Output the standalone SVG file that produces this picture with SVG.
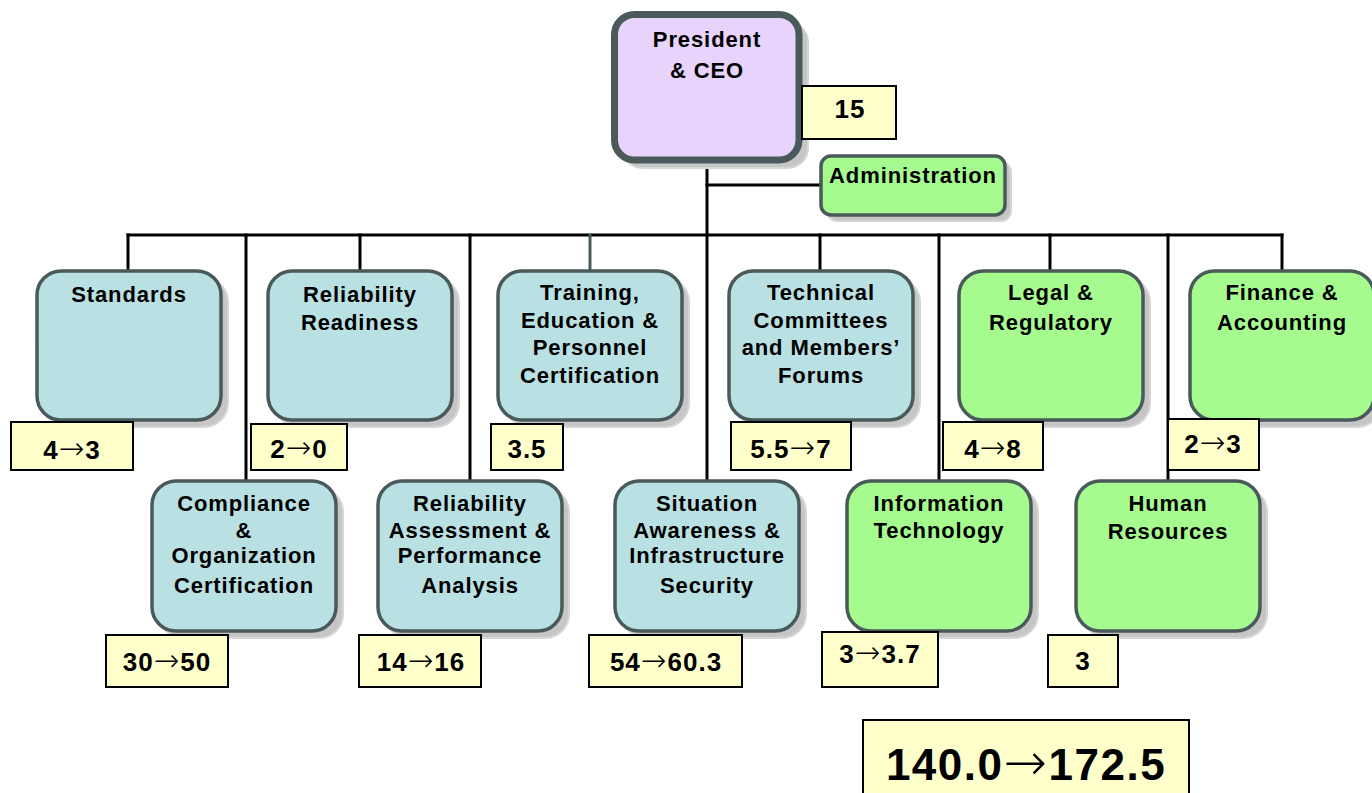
<svg xmlns="http://www.w3.org/2000/svg" width="1372" height="793" viewBox="0 0 1372 793">
  <style>
    .wire { stroke:#000; stroke-width:3; fill:none; stroke-linecap:square }
    .wire.soft { stroke:#4a5a5a }
    .shadow { fill:#c6c6c6; stroke:#d6d6d6; stroke-width:2 }
    .box { stroke:#4a5a5a; stroke-width:3.5 }
    .blue { fill:#b9e0e3 }
    .green { fill:#a6fb8f }
    .lav { fill:#e8d3fc }
    .tag { fill:#ffffcc; stroke:#000; stroke-width:2 }
    text { font-family:"Liberation Sans", Arial, sans-serif; font-weight:bold; fill:#000; text-anchor:middle }
    .lbl { font-size:22px; letter-spacing:0.9px }
    .num { font-size:26px; letter-spacing:1px }
    .big { font-size:44px; letter-spacing:1.5px }
    .arr { font-family:"DejaVu Sans", sans-serif; font-weight:200; font-size:118% }
  </style>

  <!-- reporting lines -->
  <g id="connectors">
    <path class="wire" d="M707 163 V480"/>
    <path class="wire" d="M707 185 H820"/>
    <path class="wire" d="M128 235 H1282"/>
    <path class="wire" d="M128 235 V270"/>
    <path class="wire" d="M246 235 V480"/>
    <path class="wire" d="M360 235 V270"/>
    <path class="wire" d="M470 235 V480"/>
    <path class="wire soft" d="M590 235 V270"/>
    <path class="wire" d="M820 235 V270"/>
    <path class="wire" d="M939 235 V480"/>
    <path class="wire" d="M1050 235 V270"/>
    <path class="wire" d="M1168 235 V480"/>
    <path class="wire" d="M1282 235 V270"/>
  </g>

  <g id="president">
    <rect class="shadow" x="622" y="22" width="186" height="146" rx="20"/>
    <rect class="box lav" x="614.5" y="14.5" width="184.5" height="145.5" rx="20" style="stroke-width:7"/>
    <text class="lbl" x="707" y="47">President</text>
    <text class="lbl" x="707" y="78">&amp; CEO</text>
    <rect class="tag" x="802" y="86" width="94" height="53"/>
    <text class="num" x="850" y="118">15</text>
  </g>

  <g id="administration">
    <rect class="shadow" x="827" y="162" width="184" height="59" rx="10"/>
    <rect class="box green" x="821" y="156" width="184" height="59" rx="10"/>
    <text class="lbl" x="913" y="183">Administration</text>
  </g>

  <g id="standards">
    <rect class="shadow" x="44" y="278" width="184" height="149" rx="24"/>
    <rect class="box blue" x="37" y="271" width="184" height="149" rx="24"/>
    <text class="lbl" x="129" y="302">Standards</text>
    <rect class="tag" x="11" y="422" width="122" height="48"/>
    <text class="num" x="72" y="459">4<tspan class="arr">→</tspan>3</text>
  </g>

  <g id="reliability-readiness">
    <rect class="shadow" x="275" y="278" width="184" height="149" rx="24"/>
    <rect class="box blue" x="268" y="271" width="184" height="149" rx="24"/>
    <text class="lbl" x="360" y="302">Reliability</text>
    <text class="lbl" x="360" y="330">Readiness</text>
    <rect class="tag" x="251" y="424" width="96" height="46"/>
    <text class="num" x="299" y="458">2<tspan class="arr">→</tspan>0</text>
  </g>

  <g id="training">
    <rect class="shadow" x="505" y="278" width="184" height="149" rx="24"/>
    <rect class="box blue" x="498" y="271" width="184" height="149" rx="24"/>
    <text class="lbl" x="590" y="300">Training,</text>
    <text class="lbl" x="590" y="328">Education &amp;</text>
    <text class="lbl" x="590" y="355">Personnel</text>
    <text class="lbl" x="590" y="383">Certification</text>
    <rect class="tag" x="491" y="424" width="72" height="46"/>
    <text class="num" x="527" y="458">3.5</text>
  </g>

  <g id="technical-committees">
    <rect class="shadow" x="736" y="278" width="184" height="149" rx="24"/>
    <rect class="box blue" x="729" y="271" width="184" height="149" rx="24"/>
    <text class="lbl" x="821" y="300">Technical</text>
    <text class="lbl" x="821" y="328">Committees</text>
    <text class="lbl" x="821" y="355">and Members’</text>
    <text class="lbl" x="821" y="383">Forums</text>
    <rect class="tag" x="731" y="422" width="120" height="48"/>
    <text class="num" x="791" y="458">5.5<tspan class="arr">→</tspan>7</text>
  </g>

  <g id="legal">
    <rect class="shadow" x="966" y="278" width="184" height="149" rx="24"/>
    <rect class="box green" x="959" y="271" width="184" height="149" rx="24"/>
    <text class="lbl" x="1051" y="300">Legal &amp;</text>
    <text class="lbl" x="1051" y="330">Regulatory</text>
    <rect class="tag" x="943" y="422" width="100" height="48"/>
    <text class="num" x="993" y="458">4<tspan class="arr">→</tspan>8</text>
  </g>

  <g id="finance">
    <rect class="shadow" x="1197" y="278" width="184" height="149" rx="24"/>
    <rect class="box green" x="1190" y="271" width="184" height="149" rx="24"/>
    <text class="lbl" x="1282" y="300">Finance &amp;</text>
    <text class="lbl" x="1282" y="330">Accounting</text>
    <rect class="tag" x="1168" y="419" width="91" height="51"/>
    <text class="num" x="1213" y="453">2<tspan class="arr">→</tspan>3</text>
  </g>

  <g id="compliance">
    <rect class="shadow" x="159" y="488" width="184" height="150" rx="24"/>
    <rect class="box blue" x="152" y="481" width="184" height="150" rx="24"/>
    <text class="lbl" x="244" y="511">Compliance</text>
    <text class="lbl" x="244" y="538">&amp;</text>
    <text class="lbl" x="244" y="563">Organization</text>
    <text class="lbl" x="244" y="593">Certification</text>
    <rect class="tag" x="106" y="635" width="122" height="52"/>
    <text class="num" x="167" y="671">30<tspan class="arr">→</tspan>50</text>
  </g>

  <g id="reliability-assessment">
    <rect class="shadow" x="385" y="488" width="184" height="150" rx="24"/>
    <rect class="box blue" x="378" y="481" width="184" height="150" rx="24"/>
    <text class="lbl" x="470" y="511">Reliability</text>
    <text class="lbl" x="470" y="538">Assessment &amp;</text>
    <text class="lbl" x="470" y="563">Performance</text>
    <text class="lbl" x="470" y="593">Analysis</text>
    <rect class="tag" x="359" y="635" width="122" height="52"/>
    <text class="num" x="421" y="671">14<tspan class="arr">→</tspan>16</text>
  </g>

  <g id="situation-awareness">
    <rect class="shadow" x="622" y="488" width="184" height="150" rx="24"/>
    <rect class="box blue" x="615" y="481" width="184" height="150" rx="24"/>
    <text class="lbl" x="707" y="511">Situation</text>
    <text class="lbl" x="707" y="538">Awareness &amp;</text>
    <text class="lbl" x="707" y="563">Infrastructure</text>
    <text class="lbl" x="707" y="593">Security</text>
    <rect class="tag" x="589" y="635" width="153" height="52"/>
    <text class="num" x="666" y="671">54<tspan class="arr">→</tspan>60.3</text>
  </g>

  <g id="information-technology">
    <rect class="shadow" x="854" y="488" width="184" height="150" rx="24"/>
    <rect class="box green" x="847" y="481" width="184" height="150" rx="24"/>
    <text class="lbl" x="939" y="511">Information</text>
    <text class="lbl" x="939" y="538">Technology</text>
    <rect class="tag" x="822" y="632" width="116" height="55"/>
    <text class="num" x="880" y="663">3<tspan class="arr">→</tspan>3.7</text>
  </g>

  <g id="human-resources">
    <rect class="shadow" x="1083" y="488" width="184" height="150" rx="24"/>
    <rect class="box green" x="1076" y="481" width="184" height="150" rx="24"/>
    <text class="lbl" x="1168" y="511">Human</text>
    <text class="lbl" x="1168" y="539">Resources</text>
    <rect class="tag" x="1048" y="635" width="70" height="52"/>
    <text class="num" x="1083" y="670">3</text>
  </g>

  <g id="total">
    <rect class="tag" x="863" y="720" width="326" height="80"/>
    <text class="big" x="1026" y="780">140.0<tspan class="arr">→</tspan>172.5</text>
  </g>
</svg>
